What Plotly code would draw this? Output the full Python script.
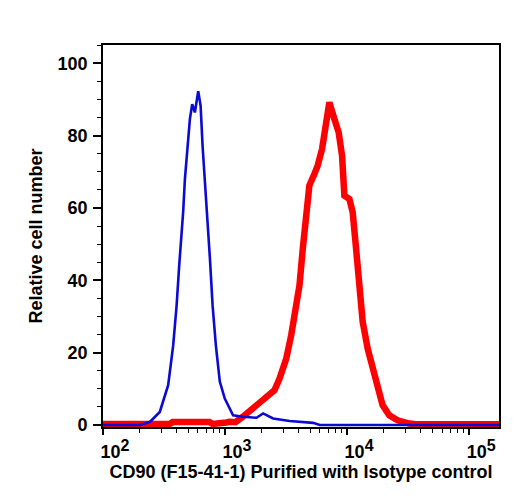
import plotly.graph_objects as go

# Isotype control (blue) histogram: fluorescence intensity vs relative cell number
iso_x = [100, 200, 214, 243, 292, 342, 376, 401, 421, 441, 454, 469, 490, 515,
         538, 566, 603, 631, 655, 684, 715, 752, 791, 841, 906, 995, 1164, 1406,
         1811, 2051, 2477, 3388, 5260, 5970, 177800]
iso_y = [0, 0, 0.3, 0.9, 3.6, 11, 22, 33, 44, 53, 59, 68, 77, 84.5,
         88.7, 86.4, 92.3, 88.2, 77, 68, 57, 46, 33, 22, 12, 7.3, 2.7, 2.3,
         2.0, 3.2, 1.8, 1.1, 0.6, 0, 0]

# CD90 (F15-41-1) stained (red) histogram
cd90_x = [100, 352, 372, 747, 791, 955, 1028, 1089, 1219, 1400, 1687, 2037,
          2312, 2541, 2793, 3170, 3483, 3828, 4074, 4335, 4613, 4909, 5395,
          5741, 6237, 6637, 7161, 7870, 8531, 9099, 9506, 10447, 11117, 11858,
          12618, 13428, 14757, 16180, 17783, 19543, 22182, 25942, 32359, 36728,
          177800]
cd90_y = [0.3, 0.3, 0.8, 0.8, 0.3, 0.3, 0.7, 0.9, 0.8, 2.3, 4.6, 6.8,
          8.2, 9.6, 12.8, 18.3, 24.8, 34, 38.6, 48.7, 56, 66.2, 69.4,
          71.7, 76.3, 83.6, 89.2, 84.6, 80.9, 74.4, 63.4, 62.5, 58.8, 48.7,
          38.6, 28.5, 21.1, 15.6, 10.1, 5.5, 2.7, 1.3, 0.4, 0.2,
          0.2]

x_tickvals = [1e2, 1e3, 1e4, 1e5]
x_ticktext = ["10<sup><span style='font-size:16px'>2</span></sup>",
              "10<sup><span style='font-size:16px'>3</span></sup>",
              "10<sup><span style='font-size:16px'>4</span></sup>",
              "10<sup><span style='font-size:16px'>5</span></sup>"]
y_tickvals = [0, 20, 40, 60, 80, 100]

x_title = "CD90 (F15-41-1) Purified with Isotype control"
y_title = "Relative cell number"

fig = go.Figure()
fig.add_trace(go.Scatter(x=cd90_x, y=cd90_y, mode="lines",
                         line=dict(color="#ff0000", width=6.5),
                         showlegend=False, hoverinfo="skip"))
fig.add_trace(go.Scatter(x=iso_x, y=iso_y, mode="lines",
                         line=dict(color="#0a0ad2", width=2.6),
                         showlegend=False, hoverinfo="skip"))

font_family = "Liberation Sans, Arial, sans-serif"

fig.update_layout(
    width=520, height=498,
    margin=dict(l=103, r=21, t=45, b=71),
    paper_bgcolor="white", plot_bgcolor="white",
    font=dict(family=font_family, color="black"),
    xaxis=dict(
        type="log", range=[2.0, 5.245],
        tickvals=x_tickvals, ticktext=x_ticktext,
        ticks="outside", ticklen=6, tickwidth=1.5, tickcolor="black",
        tickfont=dict(size=18, family=font_family, weight="bold"),
        ticklabelshift=12, ticklabelstandoff=2,
        minor=dict(ticks="outside", ticklen=4, tickwidth=1.2, tickcolor="black",
                   dtick="D1", showgrid=False),
        showline=True, linecolor="black", linewidth=1.6, mirror=True,
        showgrid=False, zeroline=False,
        title=dict(text=x_title, standoff=2,
                   font=dict(size=18, family=font_family, weight="bold")),
    ),
    yaxis=dict(
        range=[-0.55, 105.05],
        tickvals=y_tickvals,
        ticks="outside", ticklen=8, tickwidth=1.5, tickcolor="black",
        tickfont=dict(size=18, family=font_family, weight="bold"),
        ticklabelstandoff=2,
        minor=dict(ticks="outside", ticklen=4, tickwidth=1.2, tickcolor="black",
                   dtick=5, showgrid=False),
        showline=True, linecolor="black", linewidth=1.6, mirror=True,
        showgrid=False, zeroline=False,
        title=dict(text=y_title, standoff=10,
                   font=dict(size=18, family=font_family, weight="bold")),
    ),
)

fig.write_html("out.html")
